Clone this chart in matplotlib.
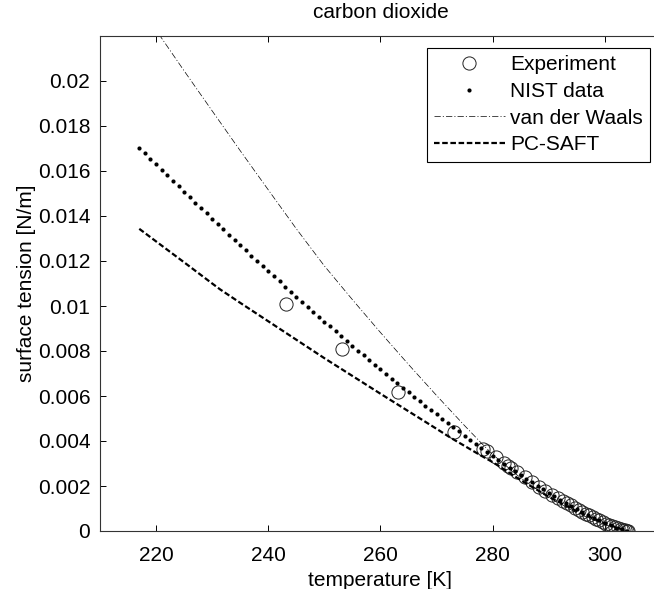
import matplotlib
matplotlib.use("Agg")
import matplotlib.pyplot as plt

plt.rcParams['font.family'] = ['Liberation Sans', 'DejaVu Sans']
plt.rcParams['lines.scale_dashes'] = False

# ---------------- data ----------------
exp_T = [243.15, 253.15, 263.15, 273.15, 278.2, 279.0, 280.5, 282.0, 282.7, 283.3,
         284.3, 285.8, 287.0, 288.2, 289.3, 290.5, 291.7, 292.5, 293.2, 293.9,
         294.6, 295.3, 296.0, 296.6, 297.2, 297.8, 298.4, 299.0, 299.6, 300.2,
         300.8, 301.3, 301.8, 302.3, 302.8, 303.2, 303.6, 303.9, 304.1]
exp_sigma = [0.0101, 0.0081, 0.0062, 0.0044, 0.00365, 0.00355, 0.00330, 0.00302, 0.00290, 0.00280,
             0.00264, 0.00238, 0.00218, 0.00197, 0.00180, 0.00162, 0.00145, 0.00133, 0.00123, 0.00114,
             0.00104, 0.00095, 0.00086, 0.00077, 0.00069, 0.00061, 0.00054, 0.00047, 0.00040, 0.00033,
             0.00027, 0.00022, 0.00017, 0.00013, 0.00009, 0.00006, 0.00003, 0.00001, 0.00000]

nist_T = list(range(217, 305))
nist_sigma = [0.017043, 0.016796, 0.016549, 0.016301, 0.016056, 0.015810, 0.015566, 0.015324,
              0.015081, 0.014840, 0.014599, 0.014359, 0.014119, 0.013882, 0.013644, 0.013407,
              0.013171, 0.012937, 0.012703, 0.012470, 0.012238, 0.012007, 0.011777, 0.011548,
              0.011319, 0.011092, 0.010866, 0.010641, 0.010416, 0.010193, 0.009972, 0.009750,
              0.009530, 0.009311, 0.009094, 0.008876, 0.008661, 0.008446, 0.008233, 0.008021,
              0.007810, 0.007600, 0.007391, 0.007184, 0.006977, 0.006773, 0.006569, 0.006367,
              0.006166, 0.005967, 0.005769, 0.005572, 0.005377, 0.005183, 0.004991, 0.004801,
              0.004612, 0.004425, 0.004239, 0.004055, 0.003873, 0.003692, 0.003514, 0.003337,
              0.003163, 0.002990, 0.002819, 0.002651, 0.002485, 0.002321, 0.002160, 0.002001,
              0.001845, 0.001691, 0.001541, 0.001393, 0.001249, 0.001108, 0.000971, 0.000838,
              0.000709, 0.000586, 0.000467, 0.000355, 0.000249, 0.000153, 0.000068, 0.000004]

vdw_T = [217, 220, 225, 230, 235, 240, 245, 250, 255, 260, 265, 270, 275, 278, 280, 285, 290, 295, 300, 304]
vdw_sigma = [0.02335, 0.02226, 0.02045, 0.01867, 0.01690, 0.01516, 0.01343, 0.01178, 0.01028, 0.00882,
             0.00740, 0.00602, 0.00468, 0.00390, 0.00340, 0.00235, 0.00150, 0.00080, 0.00028, 0.0]

pcsaft_T = [217, 220, 225, 230, 231.4, 235, 240, 245, 250, 255, 260, 265, 270, 272.4, 275, 278, 280, 285, 290, 295, 300, 304]
pcsaft_sigma = [0.01343, 0.01287, 0.01194, 0.01100, 0.01074, 0.01014, 0.00932, 0.00850, 0.00768, 0.00689,
                0.00610, 0.00532, 0.00454, 0.00416, 0.00378, 0.00334, 0.00306, 0.00226, 0.00152, 0.00088,
                0.00033, 0.0]

xticks = [220, 240, 260, 280, 300]
yticks = [0, 0.002, 0.004, 0.006, 0.008, 0.010, 0.012, 0.014, 0.016, 0.018, 0.020]
ytick_labels = ['0', '0.002', '0.004', '0.006', '0.008', '0.01', '0.012', '0.014', '0.016', '0.018', '0.02']

# ---------------- figure ----------------
W, H = 654, 589
fig = plt.figure(figsize=(W / 100, H / 100), dpi=100)
left, right, top, bottom = 100, 661, 36, 531
ax = fig.add_axes([left / W, (H - bottom) / H, (right - left) / W, (bottom - top) / H])

ax.plot(exp_T, exp_sigma, linestyle='none', marker='o', markersize=9.5,
        markerfacecolor='none', markeredgecolor='#222222', markeredgewidth=0.7, label='Experiment')
ax.plot(nist_T, nist_sigma, linestyle='none', marker='o', markersize=3.0,
        color='black', markeredgewidth=0, label='NIST data')
ax.plot(vdw_T, vdw_sigma, color='black', linewidth=0.5, linestyle=(0, (4.5, 1.5, 0.8, 1.5)),
        label='van der Waals')
ax.plot(pcsaft_T, pcsaft_sigma, color='black', linewidth=1.6, linestyle=(0, (4.0, 1.9)),
        label='PC-SAFT')

ax.set_xlim(210, 310)
ax.set_ylim(0, 0.022)
ax.set_xticks(xticks)
ax.set_yticks(yticks)
ax.set_yticklabels(ytick_labels)
ax.tick_params(direction='in', length=4, width=0.7, top=True, right=True,
               labelsize=15, colors='black')
ax.tick_params(axis='y', pad=7)
ax.tick_params(axis='x', pad=11)
for s in ax.spines.values():
    s.set_linewidth(0.8)
    s.set_color('#333333')

ax.set_title('carbon dioxide', fontsize=15, pad=13)
ax.set_xlabel('temperature [K]', fontsize=15, labelpad=4)
ax.set_ylabel('surface tension [N/m]', fontsize=15, labelpad=1.5)

leg = ax.legend(loc='upper right', bbox_to_anchor=(650 / W, 1 - 48 / H),
                bbox_transform=fig.transFigure, borderaxespad=0,
                fontsize=15, frameon=True, fancybox=False, framealpha=1,
                edgecolor='black', handlelength=3.4, handletextpad=0.25,
                labelspacing=0.37, borderpad=0.35, numpoints=1)
leg.get_frame().set_linewidth(0.8)

fig.savefig('out.png', dpi=100)
